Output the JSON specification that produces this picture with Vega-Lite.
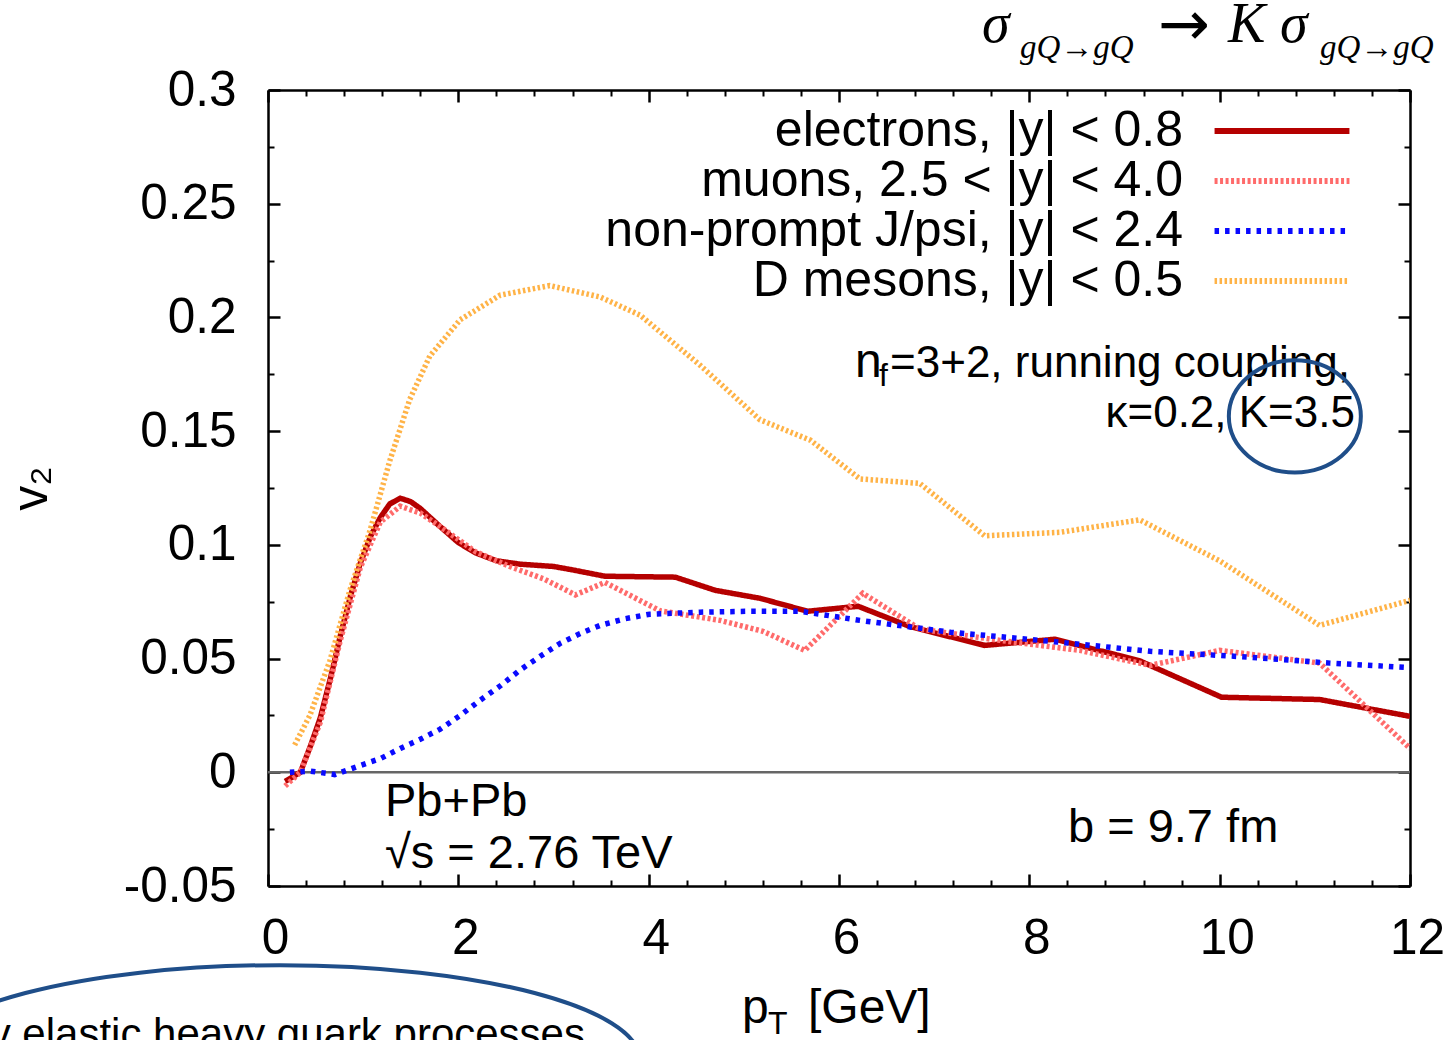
{
  "$schema": "https://vega.github.io/schema/vega-lite/v6.json",
  "width": 1142,
  "height": 796,
  "autosize": {"type": "none"},
  "padding": {"left": 268, "top": 90, "right": 40, "bottom": 154},
  "background": "white",
  "config": {
    "view": {"stroke": null},
    "axis": {"grid": false, "labelFont": "Liberation Sans", "titleFont": "Liberation Sans", "domainColor": "#000", "tickColor": "#000", "labelColor": "#000", "titleColor": "#000"}
  },
  "resolve": {"axis": {"x": "independent", "y": "independent"}},
  "layer": [
    {
      "data": {"values": [{"y": 0}]},
      "mark": {"type": "rule", "color": "#666666", "strokeWidth": 2.5},
      "encoding": {
        "y": {"field": "y", "type": "quantitative", "scale": {"domain": [-0.05, 0.3], "nice": false, "zero": false}, "axis": null}
      }
    },
    {
      "data": {"values": [
        {"series": "electrons, |y| < 0.8", "pt": 0.18, "v2": -0.004},
        {"series": "electrons, |y| < 0.8", "pt": 0.34, "v2": 0.0},
        {"series": "electrons, |y| < 0.8", "pt": 0.45, "v2": 0.012},
        {"series": "electrons, |y| < 0.8", "pt": 0.55, "v2": 0.024},
        {"series": "electrons, |y| < 0.8", "pt": 0.66, "v2": 0.042},
        {"series": "electrons, |y| < 0.8", "pt": 0.76, "v2": 0.06},
        {"series": "electrons, |y| < 0.8", "pt": 0.87, "v2": 0.078},
        {"series": "electrons, |y| < 0.8", "pt": 0.97, "v2": 0.092},
        {"series": "electrons, |y| < 0.8", "pt": 1.08, "v2": 0.104},
        {"series": "electrons, |y| < 0.8", "pt": 1.18, "v2": 0.112},
        {"series": "electrons, |y| < 0.8", "pt": 1.28, "v2": 0.118},
        {"series": "electrons, |y| < 0.8", "pt": 1.39, "v2": 0.1205},
        {"series": "electrons, |y| < 0.8", "pt": 1.5, "v2": 0.119},
        {"series": "electrons, |y| < 0.8", "pt": 1.6, "v2": 0.116},
        {"series": "electrons, |y| < 0.8", "pt": 1.81, "v2": 0.108},
        {"series": "electrons, |y| < 0.8", "pt": 2.0, "v2": 0.101},
        {"series": "electrons, |y| < 0.8", "pt": 2.18, "v2": 0.0965},
        {"series": "electrons, |y| < 0.8", "pt": 2.4, "v2": 0.093},
        {"series": "electrons, |y| < 0.8", "pt": 2.65, "v2": 0.0915},
        {"series": "electrons, |y| < 0.8", "pt": 3.0, "v2": 0.0905},
        {"series": "electrons, |y| < 0.8", "pt": 3.2, "v2": 0.089},
        {"series": "electrons, |y| < 0.8", "pt": 3.54, "v2": 0.0862},
        {"series": "electrons, |y| < 0.8", "pt": 4.28, "v2": 0.0858},
        {"series": "electrons, |y| < 0.8", "pt": 4.7, "v2": 0.08},
        {"series": "electrons, |y| < 0.8", "pt": 5.17, "v2": 0.0765},
        {"series": "electrons, |y| < 0.8", "pt": 5.67, "v2": 0.0708},
        {"series": "electrons, |y| < 0.8", "pt": 6.2, "v2": 0.073},
        {"series": "electrons, |y| < 0.8", "pt": 6.75, "v2": 0.064},
        {"series": "electrons, |y| < 0.8", "pt": 7.53, "v2": 0.0558},
        {"series": "electrons, |y| < 0.8", "pt": 8.27, "v2": 0.0585},
        {"series": "electrons, |y| < 0.8", "pt": 9.16, "v2": 0.049},
        {"series": "electrons, |y| < 0.8", "pt": 10.02, "v2": 0.033},
        {"series": "electrons, |y| < 0.8", "pt": 11.05, "v2": 0.032},
        {"series": "electrons, |y| < 0.8", "pt": 12.0, "v2": 0.0246},
        {"series": "muons, 2.5 < |y| < 4.0", "pt": 0.18, "v2": -0.006},
        {"series": "muons, 2.5 < |y| < 4.0", "pt": 0.34, "v2": 0.0},
        {"series": "muons, 2.5 < |y| < 4.0", "pt": 0.55, "v2": 0.022},
        {"series": "muons, 2.5 < |y| < 4.0", "pt": 0.76, "v2": 0.058},
        {"series": "muons, 2.5 < |y| < 4.0", "pt": 0.97, "v2": 0.09},
        {"series": "muons, 2.5 < |y| < 4.0", "pt": 1.18, "v2": 0.11},
        {"series": "muons, 2.5 < |y| < 4.0", "pt": 1.39, "v2": 0.117},
        {"series": "muons, 2.5 < |y| < 4.0", "pt": 1.6, "v2": 0.114},
        {"series": "muons, 2.5 < |y| < 4.0", "pt": 1.81, "v2": 0.108},
        {"series": "muons, 2.5 < |y| < 4.0", "pt": 2.18, "v2": 0.097},
        {"series": "muons, 2.5 < |y| < 4.0", "pt": 2.54, "v2": 0.0905},
        {"series": "muons, 2.5 < |y| < 4.0", "pt": 2.9, "v2": 0.085},
        {"series": "muons, 2.5 < |y| < 4.0", "pt": 3.23, "v2": 0.078},
        {"series": "muons, 2.5 < |y| < 4.0", "pt": 3.54, "v2": 0.0835},
        {"series": "muons, 2.5 < |y| < 4.0", "pt": 4.12, "v2": 0.071},
        {"series": "muons, 2.5 < |y| < 4.0", "pt": 4.75, "v2": 0.0668},
        {"series": "muons, 2.5 < |y| < 4.0", "pt": 5.2, "v2": 0.062},
        {"series": "muons, 2.5 < |y| < 4.0", "pt": 5.64, "v2": 0.0536},
        {"series": "muons, 2.5 < |y| < 4.0", "pt": 6.25, "v2": 0.0787},
        {"series": "muons, 2.5 < |y| < 4.0", "pt": 6.85, "v2": 0.063},
        {"series": "muons, 2.5 < |y| < 4.0", "pt": 7.69, "v2": 0.058},
        {"series": "muons, 2.5 < |y| < 4.0", "pt": 8.53, "v2": 0.0536},
        {"series": "muons, 2.5 < |y| < 4.0", "pt": 9.27, "v2": 0.047},
        {"series": "muons, 2.5 < |y| < 4.0", "pt": 10.0, "v2": 0.0536},
        {"series": "muons, 2.5 < |y| < 4.0", "pt": 11.05, "v2": 0.048},
        {"series": "muons, 2.5 < |y| < 4.0", "pt": 12.0, "v2": 0.0105},
        {"series": "non-prompt J/psi, |y| < 2.4", "pt": 0.23, "v2": 0.0},
        {"series": "non-prompt J/psi, |y| < 2.4", "pt": 0.45, "v2": 0.0005},
        {"series": "non-prompt J/psi, |y| < 2.4", "pt": 0.7, "v2": -0.001},
        {"series": "non-prompt J/psi, |y| < 2.4", "pt": 0.97, "v2": 0.003},
        {"series": "non-prompt J/psi, |y| < 2.4", "pt": 1.18, "v2": 0.006},
        {"series": "non-prompt J/psi, |y| < 2.4", "pt": 1.39, "v2": 0.0105},
        {"series": "non-prompt J/psi, |y| < 2.4", "pt": 1.6, "v2": 0.0145},
        {"series": "non-prompt J/psi, |y| < 2.4", "pt": 1.81, "v2": 0.019},
        {"series": "non-prompt J/psi, |y| < 2.4", "pt": 2.02, "v2": 0.025},
        {"series": "non-prompt J/psi, |y| < 2.4", "pt": 2.23, "v2": 0.0317},
        {"series": "non-prompt J/psi, |y| < 2.4", "pt": 2.44, "v2": 0.038},
        {"series": "non-prompt J/psi, |y| < 2.4", "pt": 2.65, "v2": 0.045},
        {"series": "non-prompt J/psi, |y| < 2.4", "pt": 2.86, "v2": 0.051},
        {"series": "non-prompt J/psi, |y| < 2.4", "pt": 3.07, "v2": 0.0567},
        {"series": "non-prompt J/psi, |y| < 2.4", "pt": 3.28, "v2": 0.061},
        {"series": "non-prompt J/psi, |y| < 2.4", "pt": 3.49, "v2": 0.0646},
        {"series": "non-prompt J/psi, |y| < 2.4", "pt": 3.75, "v2": 0.0675},
        {"series": "non-prompt J/psi, |y| < 2.4", "pt": 4.01, "v2": 0.0695},
        {"series": "non-prompt J/psi, |y| < 2.4", "pt": 4.54, "v2": 0.0704},
        {"series": "non-prompt J/psi, |y| < 2.4", "pt": 5.07, "v2": 0.0708},
        {"series": "non-prompt J/psi, |y| < 2.4", "pt": 5.59, "v2": 0.0708},
        {"series": "non-prompt J/psi, |y| < 2.4", "pt": 6.22, "v2": 0.0668},
        {"series": "non-prompt J/psi, |y| < 2.4", "pt": 7.17, "v2": 0.0616},
        {"series": "non-prompt J/psi, |y| < 2.4", "pt": 8.22, "v2": 0.0576},
        {"series": "non-prompt J/psi, |y| < 2.4", "pt": 9.27, "v2": 0.0532},
        {"series": "non-prompt J/psi, |y| < 2.4", "pt": 10.32, "v2": 0.0506},
        {"series": "non-prompt J/psi, |y| < 2.4", "pt": 11.16, "v2": 0.048},
        {"series": "non-prompt J/psi, |y| < 2.4", "pt": 12.0, "v2": 0.046},
        {"series": "D mesons, |y| < 0.5", "pt": 0.28, "v2": 0.012},
        {"series": "D mesons, |y| < 0.5", "pt": 0.44, "v2": 0.025},
        {"series": "D mesons, |y| < 0.5", "pt": 0.65, "v2": 0.049},
        {"series": "D mesons, |y| < 0.5", "pt": 0.86, "v2": 0.08},
        {"series": "D mesons, |y| < 0.5", "pt": 1.07, "v2": 0.106},
        {"series": "D mesons, |y| < 0.5", "pt": 1.28, "v2": 0.137},
        {"series": "D mesons, |y| < 0.5", "pt": 1.49, "v2": 0.164},
        {"series": "D mesons, |y| < 0.5", "pt": 1.7, "v2": 0.183},
        {"series": "D mesons, |y| < 0.5", "pt": 2.02, "v2": 0.199},
        {"series": "D mesons, |y| < 0.5", "pt": 2.44, "v2": 0.2098},
        {"series": "D mesons, |y| < 0.5", "pt": 2.96, "v2": 0.214},
        {"series": "D mesons, |y| < 0.5", "pt": 3.49, "v2": 0.209},
        {"series": "D mesons, |y| < 0.5", "pt": 3.91, "v2": 0.201},
        {"series": "D mesons, |y| < 0.5", "pt": 4.54, "v2": 0.179},
        {"series": "D mesons, |y| < 0.5", "pt": 5.17, "v2": 0.155},
        {"series": "D mesons, |y| < 0.5", "pt": 5.7, "v2": 0.146},
        {"series": "D mesons, |y| < 0.5", "pt": 6.22, "v2": 0.129},
        {"series": "D mesons, |y| < 0.5", "pt": 6.85, "v2": 0.127},
        {"series": "D mesons, |y| < 0.5", "pt": 7.53, "v2": 0.104},
        {"series": "D mesons, |y| < 0.5", "pt": 8.32, "v2": 0.1055},
        {"series": "D mesons, |y| < 0.5", "pt": 9.16, "v2": 0.111},
        {"series": "D mesons, |y| < 0.5", "pt": 10.0, "v2": 0.093},
        {"series": "D mesons, |y| < 0.5", "pt": 11.05, "v2": 0.0646},
        {"series": "D mesons, |y| < 0.5", "pt": 12.0, "v2": 0.0756}
      ]},
      "mark": {"type": "line", "strokeWidth": 5.5, "clip": true},
      "encoding": {
        "x": {"field": "pt", "type": "quantitative", "scale": {"domain": [0, 12], "nice": false, "zero": false},
          "axis": {"orient": "bottom", "values": [0, 2, 4, 6, 8, 10, 12], "tickSize": -12, "tickWidth": 2.5, "domainWidth": 2.5, "labelFontSize": 49.5, "labelPadding": 40, "labelOffset": 7, "labelFlush": false, "title": null}},
        "y": {"field": "v2", "type": "quantitative", "scale": {"domain": [-0.05, 0.3], "nice": false, "zero": false},
          "axis": {"orient": "left", "values": [-0.05, 0, 0.05, 0.1, 0.15, 0.2, 0.25, 0.3], "labelExpr": "'' + datum.value", "tickSize": -12, "tickWidth": 2.5, "domainWidth": 2.5, "labelFontSize": 49.5, "labelPadding": 44, "title": "v₂", "titleFontSize": 50, "titleFontWeight": "normal", "titleX": -222, "titleY": 398, "titleAngle": 270, "titleBaseline": "alphabetic", "titleAlign": "center"}},
        "color": {"field": "series", "type": "nominal",
          "scale": {"domain": ["electrons, |y| < 0.8", "muons, 2.5 < |y| < 4.0", "non-prompt J/psi, |y| < 2.4", "D mesons, |y| < 0.5"], "range": ["#b50000", "#ff6b6b", "#0a0aff", "#ffb347"]},
          "legend": {"orient": "none", "legendX": 989, "legendY": 16, "title": null, "symbolType": "M-3.29,0H3.29", "symbolSize": 1681, "symbolStrokeWidth": 6, "labelFontSize": 50, "labelFont": "Liberation Sans", "labelColor": "#000", "labelAlign": "right", "labelOffset": -124, "labelLimit": 2000, "rowPadding": 0, "padding": 0}},
        "strokeDash": {"field": "series", "type": "nominal",
          "scale": {"domain": ["electrons, |y| < 0.8", "muons, 2.5 < |y| < 4.0", "non-prompt J/psi, |y| < 2.4", "D mesons, |y| < 0.5"], "range": [[1, 0], [3, 2.5], [4.5, 6], [2.5, 2.5]]},
          "legend": {"orient": "none", "legendX": 989, "legendY": 16, "title": null, "symbolType": "M-3.29,0H3.29", "symbolSize": 1681, "symbolStrokeWidth": 6, "labelFontSize": 50, "labelFont": "Liberation Sans", "labelColor": "#000", "labelAlign": "right", "labelOffset": -124, "labelLimit": 2000, "rowPadding": 0, "padding": 0}}
      }
    },
    {
      "data": {"values": [
        {"t": "Pb+Pb", "x": 1.229, "y": -0.0194},
        {"t": "√s = 2.76 TeV", "x": 1.229, "y": -0.0422},
        {"t": "b = 9.7 fm", "x": 8.406, "y": -0.0308}
      ]},
      "mark": {"type": "text", "align": "left", "baseline": "alphabetic", "font": "Liberation Sans", "fontSize": 47, "color": "#000"},
      "encoding": {
        "text": {"field": "t"},
        "x": {"field": "x", "type": "quantitative", "scale": {"domain": [0, 12], "nice": false, "zero": false},
          "axis": {"orient": "bottom", "values": [0.4, 0.8, 1.2, 1.6, 2.4, 2.8, 3.2, 3.6, 4.4, 4.8, 5.2, 5.6, 6.4, 6.8, 7.2, 7.6, 8.4, 8.8, 9.2, 9.6, 10.4, 10.8, 11.2, 11.6], "tickSize": -6, "tickWidth": 2, "labels": false, "domain": false, "title": null}},
        "y": {"field": "y", "type": "quantitative", "scale": {"domain": [-0.05, 0.3], "nice": false, "zero": false},
          "axis": {"orient": "left", "values": [-0.025, 0.025, 0.075, 0.125, 0.175, 0.225, 0.275], "tickSize": -6, "tickWidth": 2, "labels": false, "domain": false, "title": null}}
      }
    },
    {
      "data": {"values": [
        {"t": "=3+2, running coupling,", "x": 11.369, "y": 0.1737},
        {"t": "κ=0.2, K=3.5", "x": 11.422, "y": 0.1517}
      ]},
      "mark": {"type": "text", "align": "right", "baseline": "alphabetic", "font": "Liberation Sans", "fontSize": 44, "color": "#000"},
      "encoding": {
        "text": {"field": "t"},
        "x": {"field": "x", "type": "quantitative", "scale": {"domain": [0, 12], "nice": false, "zero": false},
          "axis": {"orient": "top", "values": [0, 2, 4, 6, 8, 10, 12], "tickSize": -12, "tickWidth": 2.5, "domainWidth": 2.5, "labels": false, "title": null}},
        "y": {"field": "y", "type": "quantitative", "scale": {"domain": [-0.05, 0.3], "nice": false, "zero": false},
          "axis": {"orient": "right", "values": [-0.05, 0, 0.05, 0.1, 0.15, 0.2, 0.25, 0.3], "tickSize": -12, "tickWidth": 2.5, "domainWidth": 2.5, "labels": false, "title": null}}
      }
    },
    {
      "data": {"values": [
        {"t": "n", "x": 6.168, "y": 0.1737},
        {"t": "p", "x": 4.981, "y": -0.1104},
        {"t": "[GeV]", "x": 5.674, "y": -0.1104}
      ]},
      "mark": {"type": "text", "align": "left", "baseline": "alphabetic", "font": "Liberation Sans", "fontSize": 48, "color": "#000"},
      "encoding": {
        "text": {"field": "t"},
        "x": {"field": "x", "type": "quantitative", "scale": {"domain": [0, 12], "nice": false, "zero": false},
          "axis": {"orient": "top", "values": [0.4, 0.8, 1.2, 1.6, 2.4, 2.8, 3.2, 3.6, 4.4, 4.8, 5.2, 5.6, 6.4, 6.8, 7.2, 7.6, 8.4, 8.8, 9.2, 9.6, 10.4, 10.8, 11.2, 11.6], "tickSize": -6, "tickWidth": 2, "labels": false, "domain": false, "title": null}},
        "y": {"field": "y", "type": "quantitative", "scale": {"domain": [-0.05, 0.3], "nice": false, "zero": false},
          "axis": {"orient": "right", "values": [-0.025, 0.025, 0.075, 0.125, 0.175, 0.225, 0.275], "tickSize": -6, "tickWidth": 2, "labels": false, "domain": false, "title": null}}
      }
    },
    {
      "data": {"values": [
        {"t": "f", "x": 6.42, "y": 0.170},
        {"t": "T", "x": 5.254, "y": -0.1150}
      ]},
      "mark": {"type": "text", "align": "left", "baseline": "alphabetic", "font": "Liberation Sans", "fontSize": 32, "color": "#000"},
      "encoding": {
        "text": {"field": "t"},
        "x": {"field": "x", "type": "quantitative", "scale": {"domain": [0, 12], "nice": false, "zero": false}, "axis": null},
        "y": {"field": "y", "type": "quantitative", "scale": {"domain": [-0.05, 0.3], "nice": false, "zero": false}, "axis": null}
      }
    },
    {
      "data": {"values": [
        {"t": "by elastic heavy quark processes", "x": -3.17, "y": -0.1214}
      ]},
      "mark": {"type": "text", "align": "left", "baseline": "alphabetic", "font": "Liberation Sans", "fontSize": 42, "color": "#000"},
      "encoding": {
        "text": {"field": "t"},
        "x": {"field": "x", "type": "quantitative", "scale": {"domain": [0, 12], "nice": false, "zero": false}, "axis": null},
        "y": {"field": "y", "type": "quantitative", "scale": {"domain": [-0.05, 0.3], "nice": false, "zero": false}, "axis": null}
      }
    },
    {
      "data": {"values": [
        {"t": "σ", "x": 7.502, "y": 0.321},
        {"t": "K", "x": 10.087, "y": 0.321},
        {"t": "σ", "x": 10.634, "y": 0.321}
      ]},
      "mark": {"type": "text", "align": "left", "baseline": "alphabetic", "font": "Liberation Serif", "fontStyle": "italic", "fontSize": 56, "color": "#000"},
      "encoding": {
        "text": {"field": "t"},
        "x": {"field": "x", "type": "quantitative", "scale": {"domain": [0, 12], "nice": false, "zero": false}, "axis": null},
        "y": {"field": "y", "type": "quantitative", "scale": {"domain": [-0.05, 0.3], "nice": false, "zero": false}, "axis": null}
      }
    },
    {
      "data": {"values": [
        {"t": "→", "x": 9.352, "y": 0.3196}
      ]},
      "mark": {"type": "text", "align": "left", "baseline": "alphabetic", "font": "DejaVu Sans", "fontSize": 62, "color": "#000"},
      "encoding": {
        "text": {"field": "t"},
        "x": {"field": "x", "type": "quantitative", "scale": {"domain": [0, 12], "nice": false, "zero": false}, "axis": null},
        "y": {"field": "y", "type": "quantitative", "scale": {"domain": [-0.05, 0.3], "nice": false, "zero": false}, "axis": null}
      }
    },
    {
      "data": {"values": [
        {"t": "gQ→gQ", "x": 7.902, "y": 0.314},
        {"t": "gQ→gQ", "x": 11.054, "y": 0.314}
      ]},
      "mark": {"type": "text", "align": "left", "baseline": "alphabetic", "font": "Liberation Serif", "fontStyle": "italic", "fontSize": 33, "color": "#000"},
      "encoding": {
        "text": {"field": "t"},
        "x": {"field": "x", "type": "quantitative", "scale": {"domain": [0, 12], "nice": false, "zero": false}, "axis": null},
        "y": {"field": "y", "type": "quantitative", "scale": {"domain": [-0.05, 0.3], "nice": false, "zero": false}, "axis": null}
      }
    },
    {
      "data": {"values": [{"x": 10.79, "y": 0.1565}]},
      "mark": {"type": "point", "shape": "M-1,0A1,0.85 0 1,1 1,0A1,0.85 0 1,1 -1,0Z", "size": 17424, "filled": false, "stroke": "#1f4e89", "strokeWidth": 4, "opacity": 1},
      "encoding": {
        "x": {"field": "x", "type": "quantitative", "scale": {"domain": [0, 12], "nice": false, "zero": false}, "axis": null},
        "y": {"field": "y", "type": "quantitative", "scale": {"domain": [-0.05, 0.3], "nice": false, "zero": false}, "axis": null}
      }
    },
    {
      "data": {"values": [{"x": 0.126, "y": -0.1266}]},
      "mark": {"type": "point", "shape": "M-1,0A1,0.264 0 1,1 1,0A1,0.264 0 1,1 -1,0Z", "size": 518400, "filled": false, "stroke": "#1f4e89", "strokeWidth": 4, "opacity": 1},
      "encoding": {
        "x": {"field": "x", "type": "quantitative", "scale": {"domain": [0, 12], "nice": false, "zero": false}, "axis": null},
        "y": {"field": "y", "type": "quantitative", "scale": {"domain": [-0.05, 0.3], "nice": false, "zero": false}, "axis": null}
      }
    }
  ]
}
